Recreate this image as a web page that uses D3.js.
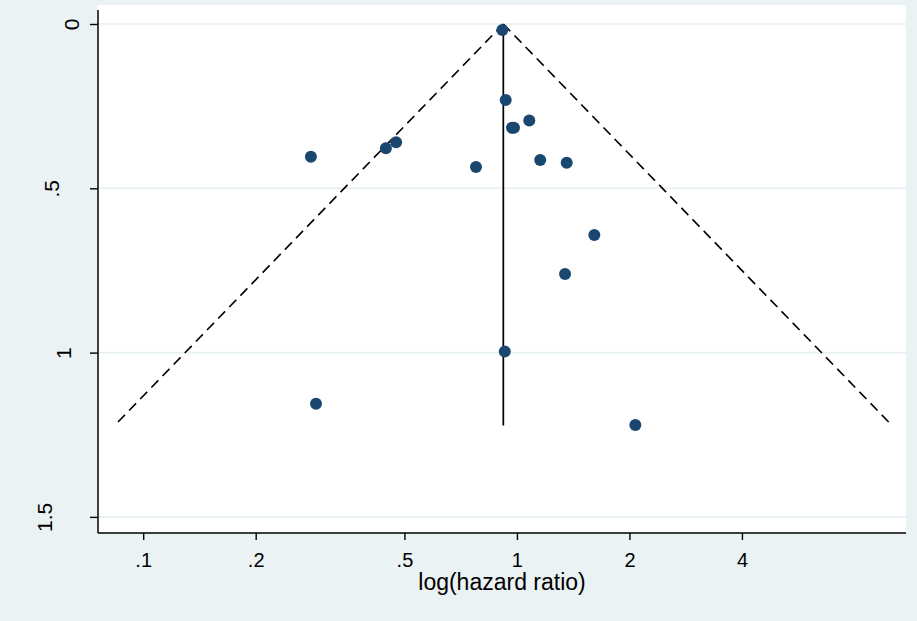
<!DOCTYPE html>
<html>
<head>
<meta charset="utf-8">
<script src="https://cdn.jsdelivr.net/npm/d3@7"></script>
<style>
  html, body { margin: 0; padding: 0; background: #eaf2f3; }
  svg { display: block; }
  text { font-family: "Liberation Sans", Arial, sans-serif; fill: #000; }
</style>
</head>
<body>
<svg id="chart" width="917" height="621"></svg>
<script>
// ---- data ----
const hazardRatio = [0.914, 0.933, 0.970, 0.982, 1.079, 1.154, 1.359, 0.777, 0.281, 0.446, 0.475, 1.611, 1.345, 0.928, 2.074, 0.290];
const stdError    = [0.018, 0.231, 0.316, 0.316, 0.294, 0.414, 0.422, 0.435, 0.404, 0.378, 0.360, 0.642, 0.761, 0.997, 1.220, 1.156];
const pooledHR = 0.9196;
const maxSE = 1.222;
const xTickValues = [0.1, 0.2, 0.5, 1, 2, 4];
const xTickLabels = [".1", ".2", ".5", "1", "2", "4"];
const yTickValues = [0, 0.5, 1, 1.5];
const yTickLabels = ["0", ".5", "1", "1.5"];
const xTitle = "log(hazard ratio)";

// ---- layout ----
const W = 917, H = 621;
const plot = { left: 98, right: 906, top: 10, bottom: 533 };
const svg = d3.select("#chart");

svg.append("rect").attr("x", 0).attr("y", 0).attr("width", W).attr("height", H).attr("fill", "#eaf2f3");
svg.append("rect").attr("x", 97).attr("y", 5).attr("width", 906 - 97).attr("height", 533 - 5).attr("fill", "#ffffff");

const x = d3.scaleLog().domain([0.0757, 10.99]).range([plot.left, plot.right]);
const y = d3.scaleLinear().domain([-0.0426, 1.549]).range([plot.top, plot.bottom]);

// gridlines
svg.append("g").selectAll("line").data(yTickValues).join("line")
  .attr("x1", plot.left).attr("x2", plot.right)
  .attr("y1", d => y(d)).attr("y2", d => y(d))
  .attr("stroke", "#e6eff1").attr("stroke-width", 1.6);

// funnel (pseudo 95% limits)
const lnT = Math.log(pooledHR);
const leftFunnel = [[Math.exp(lnT), 0], [Math.exp(lnT - 1.96 * maxSE), maxSE]];
const rightFunnel = [[Math.exp(lnT), 0], [Math.exp(lnT + 1.96 * maxSE), maxSE]];
const line = d3.line().x(d => x(d[0])).y(d => y(d[1]));
[leftFunnel, rightFunnel].forEach(seg => {
  svg.append("path").attr("d", line(seg))
    .attr("fill", "none").attr("stroke", "#000").attr("stroke-width", 1.6)
    .attr("stroke-dasharray", "10,6");
});
// pooled estimate vertical line
svg.append("path").attr("d", line([[pooledHR, 0], [pooledHR, maxSE]]))
  .attr("fill", "none").attr("stroke", "#000").attr("stroke-width", 1.7);

// points
const pts = hazardRatio.map((h, i) => ({ h, s: stdError[i] }));
svg.append("g").selectAll("circle").data(pts).join("circle")
  .attr("cx", d => x(d.h)).attr("cy", d => y(d.s)).attr("r", 6)
  .attr("fill", "#1a476f");

// x axis
const xAxis = d3.axisBottom(x).tickValues(xTickValues)
  .tickFormat((d, i) => xTickLabels[i]).tickSize(7).tickPadding(9);
const gx = svg.append("g").attr("transform", `translate(0,${plot.bottom})`).call(xAxis);
gx.select(".domain").attr("d", `M${plot.left},0H${plot.right}`).attr("stroke-width", 1.5);
gx.selectAll(".tick line").attr("stroke-width", 1.4);
gx.selectAll(".tick text").attr("font-size", 20).attr("font-family", "Liberation Sans, Arial, sans-serif")
  .attr("dy", null).attr("y", 34);

// y axis
const yLabelBaseline = { "0": 79, ".5": 59, "1": 71, "1.5": 52 };
const yAxis = d3.axisLeft(y).tickValues(yTickValues)
  .tickFormat((d, i) => yTickLabels[i]).tickSize(8);
const gy = svg.append("g").attr("transform", `translate(${plot.left},0)`).call(yAxis);
gy.select(".domain").attr("d", `M0,${plot.top}V${plot.bottom}`).attr("stroke-width", 1.5);
gy.selectAll(".tick line").attr("stroke-width", 1.4);
gy.selectAll(".tick text")
  .attr("font-size", 21).attr("font-family", "Liberation Sans, Arial, sans-serif")
  .attr("text-anchor", "middle").attr("dy", null).attr("x", null)
  .attr("transform", (d, i) => `translate(${yLabelBaseline[yTickLabels[i]] - plot.left},0) rotate(-90)`);

// x title
svg.append("text").attr("x", (plot.left + plot.right) / 2).attr("y", 590)
  .attr("text-anchor", "middle").attr("font-size", 23).text(xTitle);
</script>
</body>
</html>
